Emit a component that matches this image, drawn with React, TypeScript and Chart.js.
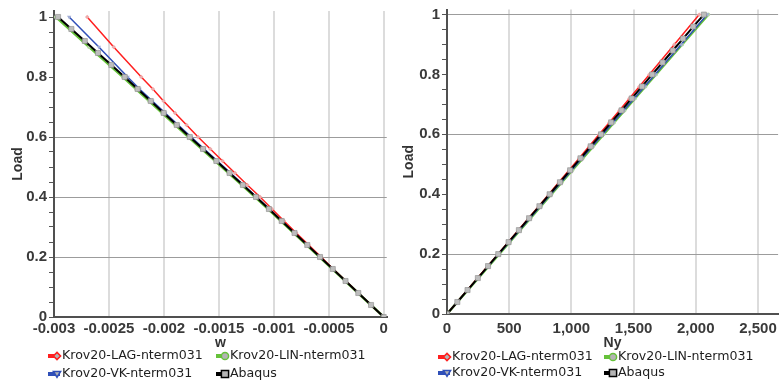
import React, { useEffect, useRef } from "react";
import { Chart, registerables } from "chart.js";

Chart.register(...registerables);

// Load levels of the Krov20 runs and of the Abaqus reference run
const LOAD_STEPS = [0, 0.04, 0.08, 0.12, 0.16, 0.2, 0.24, 0.28, 0.32, 0.36, 0.4, 0.44, 0.48, 0.52, 0.56, 0.6, 0.64, 0.68, 0.72, 0.76, 0.8, 0.9, 1];
const ABAQUS_LOAD = [0, 0.04, 0.08, 0.12, 0.16, 0.2, 0.24, 0.28, 0.32, 0.36, 0.4, 0.44, 0.48, 0.52, 0.56, 0.6, 0.64, 0.68, 0.72, 0.76, 0.8, 0.84, 0.88, 0.92, 0.96, 1];

// Deflection w
const W_LAG = [0, -0.000116, -0.000231, -0.000345, -0.00046, -0.00057, -0.000683, -0.000796, -0.000907, -0.001017, -0.001125, -0.001241, -0.001354, -0.001467, -0.001578, -0.001689, -0.001794, -0.001899, -0.002004, -0.002101, -0.002206, -0.002457, -0.002698];
const W_LIN = [0, -0.000117, -0.000234, -0.00035, -0.000467, -0.000584, -0.000701, -0.000818, -0.000935, -0.001052, -0.00117, -0.00129, -0.001412, -0.001533, -0.001655, -0.001777, -0.001896, -0.002015, -0.002134, -0.002253, -0.002372, -0.00268, -0.002982];
const W_VK = [0, -0.000116, -0.000231, -0.000347, -0.000462, -0.000578, -0.000694, -0.00081, -0.000925, -0.00104, -0.001157, -0.001275, -0.001394, -0.001513, -0.001633, -0.001752, -0.00187, -0.001988, -0.002105, -0.002222, -0.00233, -0.002592, -0.002862];
const W_ABAQUS = [0, -0.000116, -0.000232, -0.000348, -0.000464, -0.00058, -0.000696, -0.000812, -0.000929, -0.001045, -0.001162, -0.001282, -0.001403, -0.001523, -0.001644, -0.001765, -0.001883, -0.002002, -0.00212, -0.002239, -0.002357, -0.002478, -0.0026, -0.00272, -0.002842, -0.002963];

// Membrane force Ny
const NY_LAG = [0, 82, 164, 246, 328, 410, 491, 573, 655, 737, 818, 899, 981, 1062, 1143, 1224, 1305, 1386, 1466, 1547, 1627, 1828, 2028];
const NY_LIN = [0, 84, 168, 251, 335, 419, 503, 587, 671, 755, 839, 923, 1007, 1091, 1175, 1259, 1343, 1427, 1511, 1595, 1680, 1890, 2100];
const NY_VK = [0, 83, 166, 250, 333, 416, 500, 583, 667, 750, 834, 918, 1001, 1085, 1169, 1253, 1337, 1421, 1505, 1589, 1673, 1883, 2092];
const NY_ABAQUS = [0, 83, 165, 248, 330, 412, 495, 578, 660, 743, 825, 908, 990, 1073, 1155, 1238, 1320, 1403, 1485, 1568, 1650, 1733, 1815, 1898, 1980, 2065];

const SERIES_NAMES = ["Krov20-LAG-nterm031", "Krov20-LIN-nterm031", "Krov20-VK-nterm031", "Abaqus"];

// Axis ticks
const W_TICKS = [-0.003, -0.0025, -0.002, -0.0015, -0.001, -0.0005, 0];
const W_TICK_LABELS = ["-0.003", "-0.0025", "-0.002", "-0.0015", "-0.001", "-0.0005", "0"];
const NY_TICKS = [0, 500, 1000, 1500, 2000, 2500];
const NY_TICK_LABELS = ["0", "500", "1,000", "1,500", "2,000", "2,500"];
const LOAD_TICKS = [0, 0.2, 0.4, 0.6, 0.8, 1];
const LOAD_TICK_LABELS = ["0", "0.2", "0.4", "0.6", "0.8", "1"];
const LOAD_MINOR_STEP = 0.05;
const W_LOAD_GRID = [0.2, 0.4, 0.6];
const NY_LOAD_GRID = [0.2, 0.6, 1];

const STYLES = [
  { color: "#ff1f1f", width: 1.5, point: "rectRot", radius: 2.2, fill: "#eeaaaa", rotation: 0, order: 1 },
  { color: "#66c23a", width: 2.5, point: "circle", radius: 2, fill: "#b4d8a4", rotation: 0, order: 3 },
  { color: "#2f4fb8", width: 1.5, point: "triangle", radius: 2.5, fill: "#a0acd4", rotation: 180, order: 2 },
  { color: "#000000", width: 2, point: "rect", radius: 3.6, fill: "#bdbdbd", rotation: 0, order: 0 },
];

const TICK_FONT = { family: '"Liberation Sans", Arial, sans-serif', size: 15, weight: "bold" as const, lineHeight: 1 };
const TITLE_FONT = { family: '"Liberation Sans", Arial, sans-serif', size: 14, weight: "bold" as const, lineHeight: 1 };

function pairs(xs: number[], ys: number[]) {
  return ys.map((y, i) => ({ x: xs[i], y }));
}

function drawShape(ctx: CanvasRenderingContext2D, kind: string, x: number, y: number, r: number) {
  ctx.beginPath();
  if (kind === "circle") {
    ctx.arc(x, y, r, 0, Math.PI * 2);
  } else if (kind === "rect") {
    ctx.rect(x - r, y - r, 2 * r, 2 * r);
  } else if (kind === "rectRot") {
    ctx.moveTo(x, y - r);
    ctx.lineTo(x + r, y);
    ctx.lineTo(x, y + r);
    ctx.lineTo(x - r, y);
    ctx.closePath();
  } else {
    ctx.moveTo(x - r, y - r * 0.7);
    ctx.lineTo(x + r, y - r * 0.7);
    ctx.lineTo(x, y + r * 0.9);
    ctx.closePath();
  }
  ctx.fill();
  ctx.stroke();
}

// Two-column legend laid out as a grid under the plot
const gridLegend = {
  id: "gridLegend",
  afterDraw(chart: any, _args: any, opts: any) {
    const ctx: CanvasRenderingContext2D = chart.ctx;
    ctx.save();
    chart.data.datasets.forEach((ds: any, i: number) => {
      const st = STYLES[i];
      const x = opts.cols[i % 2];
      const y = opts.rows[Math.floor(i / 2)];
      ctx.fillStyle = st.color;
      ctx.fillRect(x, y - 2, 12, 4);
      ctx.fillStyle = "#b4b4b4";
      ctx.strokeStyle = st.color;
      ctx.lineWidth = 1.5;
      drawShape(ctx, st.point, x + 9, y, 3.6);
      ctx.fillStyle = "#1e1e1e";
      ctx.font = '12.6px "DejaVu Sans", sans-serif';
      ctx.textBaseline = "middle";
      ctx.textAlign = "left";
      ctx.fillText(ds.label, x + 14, y);
    });
    ctx.restore();
  },
};

type PanelProps = {
  xs: number[][];
  xTicks: number[];
  xTickLabels: string[];
  xTitle: string;
  xMin: number;
  xMax: number;
  yMax: number;
  hLines: number[];
  padTop: number;
  padRight: number;
  yWidth: number;
  xHeight: number;
  xTickPad: number;
  yTitlePad: number;
  legendCols: number[];
  legendRows: number[];
};

function Panel(p: PanelProps) {
  const ref = useRef<HTMLCanvasElement>(null);

  useEffect(() => {
    if (!ref.current) return;
    const loads = [LOAD_STEPS, LOAD_STEPS, LOAD_STEPS, ABAQUS_LOAD];
    const datasets = SERIES_NAMES.map((name, i) => {
      const st = STYLES[i];
      return {
        label: name,
        data: pairs(p.xs[i], loads[i]),
        showLine: true,
        borderColor: st.color,
        borderWidth: st.width,
        backgroundColor: st.fill,
        pointStyle: st.point,
        pointRadius: st.radius,
        pointRotation: st.rotation,
        pointBackgroundColor: st.fill,
        pointBorderColor: i === 3 ? "#8c8c8c" : st.fill,
        pointBorderWidth: i === 3 ? 0.6 : 0,
        order: st.order,
      };
    });

    const isGrid = (v: number) => p.hLines.some((h) => Math.abs(h - v) < 1e-6);

    const chart = new Chart(ref.current, {
      type: "scatter",
      data: { datasets },
      plugins: [gridLegend],
      options: {
        animation: false,
        responsive: false,
        events: [],
        layout: { padding: { top: p.padTop, right: p.padRight, left: 0, bottom: 35 } },
        plugins: {
          legend: { display: false },
          tooltip: { enabled: false },
          gridLegend: { cols: p.legendCols, rows: p.legendRows },
        } as any,
        scales: {
          x: {
            type: "linear",
            min: p.xMin,
            max: p.xMax,
            afterBuildTicks: (scale: any) => {
              scale.ticks = p.xTicks.map((value) => ({ value }));
            },
            afterFit: (scale: any) => {
              scale.height = p.xHeight;
            },
            ticks: {
              autoSkip: false,
              maxRotation: 0,
              minRotation: 0,
              padding: p.xTickPad,
              color: "#3a3a3a",
              font: TICK_FONT,
              callback: (value: any) => {
                const k = p.xTicks.findIndex((t) => Math.abs(t - Number(value)) < 1e-9);
                return k >= 0 ? p.xTickLabels[k] : "";
              },
            },
            grid: { color: "#dcdcdc", lineWidth: 2, drawTicks: false },
            border: { color: "#505050", width: 2 },
            title: { display: true, text: p.xTitle, color: "#333", font: TITLE_FONT, padding: 0 },
          },
          y: {
            type: "linear",
            min: 0,
            max: p.yMax,
            afterBuildTicks: (scale: any) => {
              const ticks = [];
              for (let k = 0; k * LOAD_MINOR_STEP <= 1 + 1e-9; k++) {
                ticks.push({ value: Math.round(k * LOAD_MINOR_STEP * 100) / 100 });
              }
              scale.ticks = ticks;
            },
            afterFit: (scale: any) => {
              scale.width = p.yWidth;
            },
            ticks: {
              autoSkip: false,
              padding: 2,
              color: "#3a3a3a",
              font: TICK_FONT,
              callback: (value: any) => {
                const k = LOAD_TICKS.findIndex((t) => Math.abs(t - Number(value)) < 1e-6);
                return k >= 0 ? LOAD_TICK_LABELS[k] : "";
              },
            },
            grid: {
              color: (c: any) => (c.tick && isGrid(c.tick.value) ? "#9c9c9c" : "rgba(0,0,0,0)"),
              lineWidth: 1,
              tickColor: "#555",
              tickLength: 5,
              tickWidth: 1,
            },
            border: { color: "#505050", width: 2 },
            title: { display: true, text: "Load", color: "#333", font: TITLE_FONT, padding: { top: p.yTitlePad, bottom: 0 } },
          },
        },
      } as any,
    });
    return () => chart.destroy();
  }, []);

  return <canvas ref={ref} width={392} height={385} style={{ display: "block", width: 392, height: 385 }} />;
}

export default function App() {
  return (
    <div style={{ position: "fixed", left: 0, top: 0, width: 784, height: 385, display: "flex", background: "#fff" }}>
      <Panel
        xs={[W_LAG, W_LIN, W_VK, W_ABAQUS]}
        xTicks={W_TICKS}
        xTickLabels={W_TICK_LABELS}
        xTitle="w"
        xMin={-0.003}
        xMax={0.000027}
        yMax={1.02}
        hLines={W_LOAD_GRID}
        padTop={11}
        padRight={3}
        yWidth={54}
        xHeight={33}
        xTickPad={4}
        yTitlePad={11}
        legendCols={[48, 216]}
        legendRows={[356, 374]}
      />
      <Panel
        xs={[NY_LAG, NY_LIN, NY_VK, NY_ABAQUS]}
        xTicks={NY_TICKS}
        xTickLabels={NY_TICK_LABELS}
        xTitle="Ny"
        xMin={0}
        xMax={2662}
        yMax={1.017}
        hLines={NY_LOAD_GRID}
        padTop={9}
        padRight={1}
        yWidth={55}
        xHeight={36}
        xTickPad={7}
        yTitlePad={10}
        legendCols={[46, 212]}
        legendRows={[357, 373]}
      />
    </div>
  );
}
